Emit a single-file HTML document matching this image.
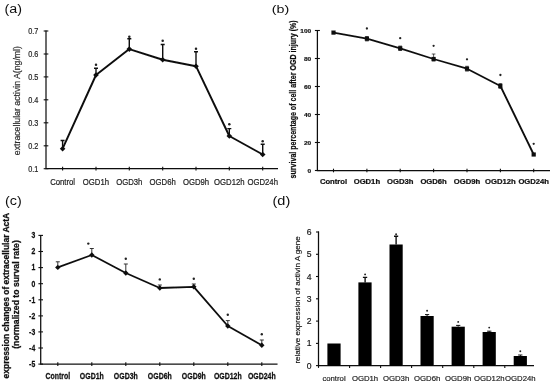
<!DOCTYPE html>
<html><head><meta charset="utf-8"><title>Figure</title>
<style>
html,body{margin:0;padding:0;background:#fff;}
body{width:550px;height:384px;overflow:hidden;font-family:"Liberation Sans",sans-serif;}
svg{display:block;font-family:"Liberation Sans",sans-serif;fill:#111;}
.r{stroke:#222;stroke-width:.18px;}
.ax{stroke:#111;stroke-width:1.25;fill:none;}
.tk{stroke:#111;stroke-width:1.1;fill:none;}
.eb{stroke:#111;stroke-width:1.1;fill:none;}
.b{font-weight:bold;stroke:#111;stroke-width:.22px;}
</style></head><body>
<svg width="550" height="384" viewBox="0 0 550 384">
<rect width="550" height="384" fill="#fff"/>
<g filter="url(#bl)">

<!-- panel a -->
<text transform="translate(4.60 12.70) scale(1 0.84)" font-size="14.3" text-anchor="start">(a)</text>
<path class="ax" d="M46 30.5V168.6H278"/>
<path class="tk" d="M43.7 31.0H48.3"/>
<text class="r" transform="translate(38.40 34.30) scale(0.915 1.18)" font-size="8" text-anchor="end" fill="#222">0.7</text>
<path class="tk" d="M43.7 54.0H48.3"/>
<text class="r" transform="translate(38.40 57.25) scale(0.915 1.18)" font-size="8" text-anchor="end" fill="#222">0.6</text>
<path class="tk" d="M43.7 76.9H48.3"/>
<text class="r" transform="translate(38.40 80.20) scale(0.915 1.18)" font-size="8" text-anchor="end" fill="#222">0.5</text>
<path class="tk" d="M43.7 99.8H48.3"/>
<text class="r" transform="translate(38.40 103.15) scale(0.915 1.18)" font-size="8" text-anchor="end" fill="#222">0.4</text>
<path class="tk" d="M43.7 122.8H48.3"/>
<text class="r" transform="translate(38.40 126.10) scale(0.915 1.18)" font-size="8" text-anchor="end" fill="#222">0.3</text>
<path class="tk" d="M43.7 145.8H48.3"/>
<text class="r" transform="translate(38.40 149.05) scale(0.915 1.18)" font-size="8" text-anchor="end" fill="#222">0.2</text>
<path class="tk" d="M43.7 168.7H48.3"/>
<text class="r" transform="translate(38.40 172.00) scale(0.915 1.18)" font-size="8" text-anchor="end" fill="#222">0.1</text>
<path class="tk" d="M62.6 166.79999999999998V170.4"/>
<text class="r" transform="translate(62.60 184.90) scale(0.98 1.22)" font-size="7.9" text-anchor="middle" fill="#222">Control</text>
<path class="tk" d="M96.0 166.79999999999998V170.4"/>
<text class="r" transform="translate(95.95 184.90) scale(0.98 1.22)" font-size="7.9" text-anchor="middle" fill="#222">OGD1h</text>
<path class="tk" d="M129.3 166.79999999999998V170.4"/>
<text class="r" transform="translate(129.30 184.90) scale(0.98 1.22)" font-size="7.9" text-anchor="middle" fill="#222">OGD3h</text>
<path class="tk" d="M162.7 166.79999999999998V170.4"/>
<text class="r" transform="translate(162.65 184.90) scale(0.98 1.22)" font-size="7.9" text-anchor="middle" fill="#222">OGD6h</text>
<path class="tk" d="M196.0 166.79999999999998V170.4"/>
<text class="r" transform="translate(196.00 184.90) scale(0.98 1.22)" font-size="7.9" text-anchor="middle" fill="#222">OGD9h</text>
<path class="tk" d="M229.3 166.79999999999998V170.4"/>
<text class="r" transform="translate(229.35 184.90) scale(0.98 1.22)" font-size="7.9" text-anchor="middle" fill="#222">OGD12h</text>
<path class="tk" d="M262.7 166.79999999999998V170.4"/>
<text class="r" transform="translate(262.70 184.90) scale(0.98 1.22)" font-size="7.9" text-anchor="middle" fill="#222">OGD24h</text>
<text class="r" transform="translate(20.10 100.60) rotate(-90) scale(0.97 1.1)" font-size="9" text-anchor="middle" fill="#333">extracellular activin A(ng/ml)</text>
<polyline fill="none" stroke="#111" stroke-width="1.95" stroke-linejoin="round" points="62.6,148.7 96.0,75.0 129.3,49.1 162.7,59.8 196.0,66.2 229.3,136.0 262.7,154.5"/>
<path class="eb" style="stroke-width:1.4" d="M62.6 148.7V140.5M60.6 140.5H64.6"/>
<path d="M59.8 148.7L62.6 145.9L65.4 148.7L62.6 151.5Z" fill="#111"/>
<path class="eb" style="stroke-width:1.4" d="M96.0 75.0V68.2M94.0 68.2H98.0"/>
<path d="M93.2 75.0L96.0 72.2L98.8 75.0L96.0 77.8Z" fill="#111"/>
<circle cx="96.0" cy="64.8" r="1.25" fill="#222"/>
<path class="eb" style="stroke-width:1.4" d="M129.3 49.1V38.7M127.3 38.7H131.3"/>
<path d="M126.5 49.1L129.3 46.3L132.1 49.1L129.3 51.9Z" fill="#111"/>
<circle cx="129.3" cy="36.7" r="1.25" fill="#222"/>
<path class="eb" style="stroke-width:1.4" d="M162.7 59.8V44.5M160.7 44.5H164.7"/>
<path d="M159.8 59.8L162.7 57.0L165.5 59.8L162.7 62.6Z" fill="#111"/>
<circle cx="162.7" cy="40.8" r="1.25" fill="#222"/>
<path class="eb" style="stroke-width:1.4" d="M196.0 66.2V51.7M194.0 51.7H198.0"/>
<path d="M193.2 66.2L196.0 63.4L198.8 66.2L196.0 69.0Z" fill="#111"/>
<circle cx="196.0" cy="48.8" r="1.25" fill="#222"/>
<path class="eb" style="stroke-width:1.4" d="M229.3 136.0V128.6M227.3 128.6H231.3"/>
<path d="M226.5 136.0L229.3 133.2L232.2 136.0L229.3 138.8Z" fill="#111"/>
<circle cx="229.3" cy="124.3" r="1.25" fill="#222"/>
<path class="eb" style="stroke-width:1.4" d="M262.7 154.5V144.3M260.7 144.3H264.7"/>
<path d="M259.9 154.5L262.7 151.7L265.5 154.5L262.7 157.3Z" fill="#111"/>
<circle cx="262.7" cy="141.3" r="1.25" fill="#222"/>
<!-- panel b -->
<text transform="translate(271.80 12.90) scale(1 0.82)" font-size="14.3" text-anchor="start">(b)</text>
<path class="ax" d="M317.4 30.0V170.5H550"/>
<path class="tk" d="M314.9 30.5H319.9"/>
<text class="b" transform="translate(311.20 32.80) scale(0.91 0.82)" font-size="7.2" text-anchor="end">100</text>
<path class="tk" d="M314.9 58.5H319.9"/>
<text class="b" transform="translate(311.20 60.80) scale(0.91 0.82)" font-size="7.2" text-anchor="end">80</text>
<path class="tk" d="M314.9 86.5H319.9"/>
<text class="b" transform="translate(311.20 88.80) scale(0.91 0.82)" font-size="7.2" text-anchor="end">60</text>
<path class="tk" d="M314.9 114.5H319.9"/>
<text class="b" transform="translate(311.20 116.80) scale(0.91 0.82)" font-size="7.2" text-anchor="end">40</text>
<path class="tk" d="M314.9 142.5H319.9"/>
<text class="b" transform="translate(311.20 144.80) scale(0.91 0.82)" font-size="7.2" text-anchor="end">20</text>
<path class="tk" d="M314.9 170.5H319.9"/>
<text class="b" transform="translate(311.20 172.80) scale(0.91 0.82)" font-size="7.2" text-anchor="end">0</text>
<path class="tk" d="M333.5 168.7V172.3"/>
<text class="b" transform="translate(333.50 184.40) scale(1.066 1.1)" font-size="7.2" text-anchor="middle">Control</text>
<path class="tk" d="M366.9 168.7V172.3"/>
<text class="b" transform="translate(366.87 184.40) scale(1.066 1.1)" font-size="7.2" text-anchor="middle">OGD1h</text>
<path class="tk" d="M400.2 168.7V172.3"/>
<text class="b" transform="translate(400.24 184.40) scale(1.066 1.1)" font-size="7.2" text-anchor="middle">OGD3h</text>
<path class="tk" d="M433.6 168.7V172.3"/>
<text class="b" transform="translate(433.61 184.40) scale(1.066 1.1)" font-size="7.2" text-anchor="middle">OGD6h</text>
<path class="tk" d="M467.0 168.7V172.3"/>
<text class="b" transform="translate(466.98 184.40) scale(1.066 1.1)" font-size="7.2" text-anchor="middle">OGD9h</text>
<path class="tk" d="M500.4 168.7V172.3"/>
<text class="b" transform="translate(500.35 184.40) scale(1.066 1.1)" font-size="7.2" text-anchor="middle">OGD12h</text>
<path class="tk" d="M533.7 168.7V172.3"/>
<text class="b" transform="translate(533.72 184.40) scale(1.066 1.1)" font-size="7.2" text-anchor="middle">OGD24h</text>
<text class="b" transform="translate(296.40 99.35) rotate(-90) scale(0.883 1.06)" font-size="8" text-anchor="middle">survival percentage of cell after OGD injury (%)</text>
<polyline fill="none" stroke="#111" stroke-width="1.8" stroke-linejoin="round" points="333.5,32.6 366.9,38.7 400.2,48.3 433.6,59.0 467.0,68.7 500.4,86.0 533.7,154.5"/>
<rect x="331.4" y="30.5" width="4.2" height="4.2" fill="#111"/>
<path class="eb" style="stroke-width:.7" d="M366.9 36.5V40.9M365.1 36.5H368.7M365.1 40.9H368.7"/>
<rect x="364.8" y="36.6" width="4.2" height="4.2" fill="#111"/>
<circle cx="366.9" cy="28.5" r="1.15" fill="#222"/>
<path class="eb" style="stroke-width:.7" d="M400.2 46.1V50.5M398.4 46.1H402.0M398.4 50.5H402.0"/>
<rect x="398.1" y="46.2" width="4.2" height="4.2" fill="#111"/>
<circle cx="400.2" cy="38.2" r="1.15" fill="#222"/>
<path class="eb" style="stroke-width:.7" d="M433.6 54.0V61.0M431.8 54.0H435.4M431.8 61.0H435.4"/>
<rect x="431.5" y="56.9" width="4.2" height="4.2" fill="#111"/>
<circle cx="433.6" cy="45.8" r="1.15" fill="#222"/>
<path class="eb" style="stroke-width:.7" d="M467.0 66.3V71.1M465.2 66.3H468.8M465.2 71.1H468.8"/>
<rect x="464.9" y="66.6" width="4.2" height="4.2" fill="#111"/>
<circle cx="467.0" cy="59.3" r="1.15" fill="#222"/>
<path class="eb" style="stroke-width:.7" d="M500.4 83.6V88.4M498.6 83.6H502.2M498.6 88.4H502.2"/>
<rect x="498.2" y="83.9" width="4.2" height="4.2" fill="#111"/>
<circle cx="500.4" cy="75.0" r="1.15" fill="#222"/>
<rect x="531.6" y="152.4" width="4.2" height="4.2" fill="#111"/>
<circle cx="533.7" cy="143.8" r="1.15" fill="#222"/>
<!-- panel c -->
<text transform="translate(5.00 204.70) scale(1 0.84)" font-size="14.3" text-anchor="start">(c)</text>
<path class="ax" d="M40.7 234.9V364.1H277.5"/>
<path class="tk" d="M38.400000000000006 235.4H43.0"/>
<text class="b" transform="translate(35.20 238.30) scale(0.95 1.15)" font-size="7.2" text-anchor="end">3</text>
<path class="tk" d="M38.400000000000006 251.5H43.0"/>
<text class="b" transform="translate(35.20 254.39) scale(0.95 1.15)" font-size="7.2" text-anchor="end">2</text>
<path class="tk" d="M38.400000000000006 267.6H43.0"/>
<text class="b" transform="translate(35.20 270.48) scale(0.95 1.15)" font-size="7.2" text-anchor="end">1</text>
<path class="tk" d="M38.400000000000006 283.7H43.0"/>
<text class="b" transform="translate(35.20 286.57) scale(0.95 1.15)" font-size="7.2" text-anchor="end">0</text>
<path class="tk" d="M38.400000000000006 299.8H43.0"/>
<text class="b" transform="translate(35.20 302.66) scale(0.95 1.15)" font-size="7.2" text-anchor="end">-1</text>
<path class="tk" d="M38.400000000000006 315.9H43.0"/>
<text class="b" transform="translate(35.20 318.75) scale(0.95 1.15)" font-size="7.2" text-anchor="end">-2</text>
<path class="tk" d="M38.400000000000006 331.9H43.0"/>
<text class="b" transform="translate(35.20 334.84) scale(0.95 1.15)" font-size="7.2" text-anchor="end">-3</text>
<path class="tk" d="M38.400000000000006 348.0H43.0"/>
<text class="b" transform="translate(35.20 350.93) scale(0.95 1.15)" font-size="7.2" text-anchor="end">-4</text>
<path class="tk" d="M38.400000000000006 364.1H43.0"/>
<text class="b" transform="translate(35.20 367.02) scale(0.95 1.15)" font-size="7.2" text-anchor="end">-5</text>
<path class="tk" d="M57.8 362.3V365.90000000000003"/>
<text class="b" transform="translate(57.80 379.10) scale(0.965 1.15)" font-size="7.2" text-anchor="middle">Control</text>
<path class="tk" d="M91.8 362.3V365.90000000000003"/>
<text class="b" transform="translate(91.80 379.10) scale(0.965 1.15)" font-size="7.2" text-anchor="middle">OGD1h</text>
<path class="tk" d="M125.8 362.3V365.90000000000003"/>
<text class="b" transform="translate(125.80 379.10) scale(0.965 1.15)" font-size="7.2" text-anchor="middle">OGD3h</text>
<path class="tk" d="M159.8 362.3V365.90000000000003"/>
<text class="b" transform="translate(159.80 379.10) scale(0.965 1.15)" font-size="7.2" text-anchor="middle">OGD6h</text>
<path class="tk" d="M193.8 362.3V365.90000000000003"/>
<text class="b" transform="translate(193.80 379.10) scale(0.965 1.15)" font-size="7.2" text-anchor="middle">OGD9h</text>
<path class="tk" d="M227.8 362.3V365.90000000000003"/>
<text class="b" transform="translate(227.80 379.10) scale(0.965 1.15)" font-size="7.2" text-anchor="middle">OGD12h</text>
<path class="tk" d="M261.8 362.3V365.90000000000003"/>
<text class="b" transform="translate(261.80 379.10) scale(0.965 1.15)" font-size="7.2" text-anchor="middle">OGD24h</text>
<text class="b" transform="translate(9.10 295.60) rotate(-90) scale(1.115 1.3)" font-size="7.6" text-anchor="middle">expression changes of extracellular ActA</text>
<text class="b" transform="translate(19.30 294.50) rotate(-90) scale(1.143 1.3)" font-size="7.6" text-anchor="middle">(normalized to surval rate)</text>
<polyline fill="none" stroke="#111" stroke-width="1.85" stroke-linejoin="round" points="57.8,267.4 91.8,255.0 125.8,273.0 159.8,288.0 193.8,286.8 227.8,326.0 261.8,345.2"/>
<path class="eb" style="stroke-width:1;stroke:#333" d="M57.8 267.4V261.8M55.8 261.8H59.8"/>
<path d="M55.1 267.4L57.8 264.7L60.5 267.4L57.8 270.1Z" fill="#111"/>
<path class="eb" style="stroke-width:1;stroke:#333" d="M91.8 255.0V248.5M89.8 248.5H93.8"/>
<path d="M89.1 255.0L91.8 252.3L94.5 255.0L91.8 257.7Z" fill="#111"/>
<circle cx="88.3" cy="243.6" r="1.2" fill="#222"/>
<path class="eb" style="stroke-width:1;stroke:#333" d="M125.8 273.0V264.0M123.8 264.0H127.8"/>
<path d="M123.1 273.0L125.8 270.3L128.5 273.0L125.8 275.7Z" fill="#111"/>
<circle cx="125.8" cy="258.7" r="1.2" fill="#222"/>
<path class="eb" style="stroke-width:1;stroke:#333" d="M159.8 288.0V285.0M157.8 285.0H161.8"/>
<path d="M157.1 288.0L159.8 285.3L162.5 288.0L159.8 290.7Z" fill="#111"/>
<circle cx="159.8" cy="279.4" r="1.2" fill="#222"/>
<path class="eb" style="stroke-width:1;stroke:#333" d="M193.8 286.8V284.0M191.8 284.0H195.8"/>
<path d="M191.1 286.8L193.8 284.1L196.5 286.8L193.8 289.5Z" fill="#111"/>
<circle cx="193.8" cy="278.7" r="1.2" fill="#222"/>
<path class="eb" style="stroke-width:1;stroke:#333" d="M227.8 326.0V320.6M225.8 320.6H229.8"/>
<path d="M225.1 326.0L227.8 323.3L230.5 326.0L227.8 328.7Z" fill="#111"/>
<circle cx="227.8" cy="314.8" r="1.2" fill="#222"/>
<path class="eb" style="stroke-width:1;stroke:#333" d="M261.8 345.2V340.0M259.8 340.0H263.8"/>
<path d="M259.1 345.2L261.8 342.5L264.5 345.2L261.8 347.9Z" fill="#111"/>
<circle cx="261.8" cy="334.2" r="1.2" fill="#222"/>
<!-- panel d -->
<text transform="translate(272.50 204.90) scale(1 0.86)" font-size="14.5" text-anchor="start">(d)</text>
<path class="ax" d="M318.5 231.5V365.6H534"/>
<path class="tk" d="M316.0 232.0H319.0"/>
<text class="r" transform="translate(311.50 235.10)" font-size="8.6" text-anchor="end">6</text>
<path class="tk" d="M316.0 254.3H319.0"/>
<text class="r" transform="translate(311.50 257.37)" font-size="8.6" text-anchor="end">5</text>
<path class="tk" d="M316.0 276.5H319.0"/>
<text class="r" transform="translate(311.50 279.64)" font-size="8.6" text-anchor="end">4</text>
<path class="tk" d="M316.0 298.8H319.0"/>
<text class="r" transform="translate(311.50 301.91)" font-size="8.6" text-anchor="end">3</text>
<path class="tk" d="M316.0 321.1H319.0"/>
<text class="r" transform="translate(311.50 324.18)" font-size="8.6" text-anchor="end">2</text>
<path class="tk" d="M316.0 343.4H319.0"/>
<text class="r" transform="translate(311.50 346.45)" font-size="8.6" text-anchor="end">1</text>
<path class="tk" d="M316.0 365.6H319.0"/>
<text class="r" transform="translate(311.50 368.72)" font-size="8.6" text-anchor="end">0</text>
<text stroke="#111" stroke-width="0.3" class="r" transform="translate(300.40 300.00) rotate(-90)" font-size="8" text-anchor="middle">relative expression of activin A gene</text>
<path class="tk" d="M349.6 365.6V367.90000000000003"/>
<rect x="327.4" y="343.5" width="13.2" height="22.1" fill="#000"/>
<text class="r" transform="translate(334.00 380.60)" font-size="7.75" text-anchor="middle" fill="#222">control</text>
<path class="tk" d="M380.6 365.6V367.90000000000003"/>
<rect x="358.4" y="282.4" width="13.2" height="83.2" fill="#000"/>
<path class="eb" style="stroke-width:1.4" d="M365.1 282.4V277.4M362.9 277.4H367.2"/>
<circle cx="365.1" cy="274.4" r="0.95" fill="#222"/>
<text class="r" transform="translate(365.05 380.60)" font-size="7.75" text-anchor="middle" fill="#222">OGD1h</text>
<path class="tk" d="M411.6 365.6V367.90000000000003"/>
<rect x="389.5" y="244.5" width="13.2" height="121.1" fill="#000"/>
<path class="eb" style="stroke-width:1.4" d="M396.1 244.5V236.2M394.0 236.2H398.2"/>
<circle cx="396.1" cy="234.3" r="0.95" fill="#222"/>
<text class="r" transform="translate(396.10 380.60)" font-size="7.75" text-anchor="middle" fill="#222">OGD3h</text>
<path class="tk" d="M442.7 365.6V367.90000000000003"/>
<rect x="420.5" y="316.0" width="13.2" height="49.6" fill="#000"/>
<path class="eb" style="stroke-width:1" d="M427.1 316.0V314.6M425.0 314.6H429.2"/>
<circle cx="427.1" cy="310.8" r="0.95" fill="#222"/>
<text class="r" transform="translate(427.15 380.60)" font-size="7.75" text-anchor="middle" fill="#222">OGD6h</text>
<path class="tk" d="M473.8 365.6V367.90000000000003"/>
<rect x="451.6" y="326.7" width="13.2" height="38.9" fill="#000"/>
<path class="eb" style="stroke-width:1" d="M458.2 326.7V325.4M456.1 325.4H460.3"/>
<circle cx="458.2" cy="321.9" r="0.95" fill="#222"/>
<text class="r" transform="translate(458.20 380.60)" font-size="7.75" text-anchor="middle" fill="#222">OGD9h</text>
<path class="tk" d="M504.8 365.6V367.90000000000003"/>
<rect x="482.6" y="332.0" width="13.2" height="33.6" fill="#000"/>
<path class="eb" style="stroke-width:1" d="M489.2 332.0V331.2M487.1 331.2H491.4"/>
<circle cx="489.2" cy="327.6" r="0.95" fill="#222"/>
<text class="r" transform="translate(489.25 380.60)" font-size="7.75" text-anchor="middle" fill="#222">OGD12h</text>
<rect x="513.7" y="356.0" width="13.2" height="9.6" fill="#000"/>
<path class="eb" style="stroke-width:1" d="M520.3 356.0V355.0M518.2 355.0H522.4"/>
<circle cx="520.3" cy="351.3" r="0.95" fill="#222"/>
<text class="r" transform="translate(520.30 380.60)" font-size="7.75" text-anchor="middle" fill="#222">OGD24h</text>
<path class="tk" d="M318.5 365.6V367.90000000000003"/>
</g>
<defs><filter id="bl" x="0" y="0" width="550" height="384" filterUnits="userSpaceOnUse"><feGaussianBlur stdDeviation="0.25"/></filter></defs>
</svg></body></html>
